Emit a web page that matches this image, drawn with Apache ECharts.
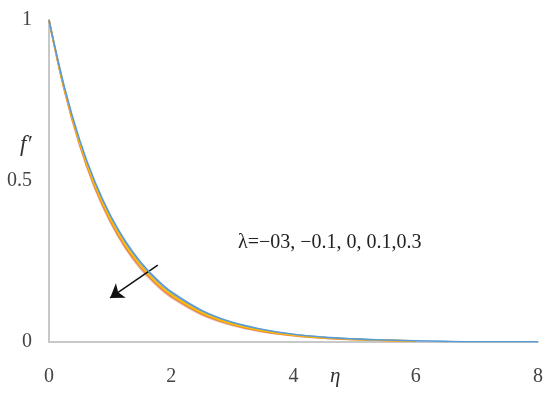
<!DOCTYPE html>
<html>
<head>
<meta charset="utf-8">
<script src="https://cdn.jsdelivr.net/npm/echarts@6/dist/echarts.min.js"></script>
<style>
  html, body { margin: 0; padding: 0; background: #fff; }
  #chart { width: 550px; height: 405px; }
</style>
</head>
<body>
<div id="chart"></div>
<script>
// eta values
var etaValues = [0, 0.25, 0.5, 0.75, 1, 1.25, 1.5, 1.75, 2, 2.5, 3, 3.5, 4, 4.5, 5, 5.5, 6];
var etaTail = [6.5, 7, 7.5, 8];

// f' for each lambda (top curve to bottom curve)
var fLam03 = [1, 0.793, 0.628, 0.498, 0.395, 0.313, 0.248, 0.197, 0.156, 0.098, 0.061, 0.039, 0.024, 0.015, 0.0096, 0.006, 0.004];
var fLam01 = [1, 0.789, 0.623, 0.492, 0.389, 0.307, 0.242, 0.191, 0.151, 0.094, 0.059, 0.037, 0.023, 0.014, 0.009, 0.006, 0.003];
var fLam0 = [1, 0.787, 0.619, 0.487, 0.383, 0.301, 0.237, 0.186, 0.147, 0.091, 0.056, 0.035, 0.021, 0.013, 0.008, 0.005, 0.003];
var fLamM01 = [1, 0.784, 0.614, 0.481, 0.377, 0.295, 0.232, 0.181, 0.142, 0.087, 0.054, 0.033, 0.020, 0.012, 0.008, 0.005, 0.003];
var fLamM03 = [1, 0.781, 0.610, 0.476, 0.372, 0.290, 0.226, 0.177, 0.138, 0.084, 0.051, 0.031, 0.019, 0.012, 0.007, 0.004, 0.003];
var fTail = [0.002, 0.001, 0.001, 0.001];

var xTicks = [0, 2, 4, 6, 8];
var yTicks = [0, 0.5, 1];

// arrow (from, to) in data units
var arrowFrom = [1.78, 0.239];
var arrowTo = [1.0, 0.137];

function pairs(xs, ys) {
    var out = [];
    for (var i = 0; i < xs.length; i++) {
        out.push([xs[i], ys[i]]);
    }
    return out;
}

var serif = '"Liberation Serif", "DejaVu Serif", serif';

var chart = echarts.init(document.getElementById('chart'));

function line(name, data, color, z) {
    return {
        name: name,
        type: 'line',
        smooth: 0.4,
        showSymbol: false,
        z: z,
        lineStyle: { color: color, width: 1.6 },
        data: data
    };
}

var option = {
    animation: false,
    grid: { left: 49, right: 12, top: 20, bottom: 63, outerBoundsMode: 'none', containLabel: false },
    xAxis: {
        type: 'value',
        min: 0,
        max: 8,
        interval: 2,
        axisLine: { lineStyle: { color: '#c8c8c8', width: 2 } },
        axisTick: { show: false },
        splitLine: { show: false },
        axisLabel: {
            margin: 25,
            fontFamily: serif, fontSize: 20, color: '#444',
            formatter: function (v) { return xTicks.indexOf(v) >= 0 ? String(v) : ''; }
        }
    },
    yAxis: {
        type: 'value',
        min: 0,
        max: 1,
        interval: 0.5,
        axisLine: { show: true, lineStyle: { color: '#c8c8c8', width: 2 } },
        axisTick: { show: false },
        splitLine: { show: false },
        axisLabel: {
            margin: 17,
            fontFamily: serif, fontSize: 20, color: '#444',
            formatter: function (v) { return yTicks.indexOf(v) >= 0 ? String(v) : ''; }
        }
    },
    graphic: [
        {
            type: 'text',
            left: 20, top: 133,
            style: { text: 'f′', fontFamily: serif, fontStyle: 'italic', fontSize: 23, fill: '#333' }
        },
        {
            type: 'text',
            left: 330, top: 366,
            style: { text: 'η', fontFamily: serif, fontStyle: 'italic', fontSize: 21, fill: '#333' }
        },
        {
            type: 'text',
            left: 238, top: 233,
            style: { text: 'λ=−03, −0.1, 0, 0.1,0.3', fontFamily: serif, fontSize: 20, fill: '#222' }
        }
    ],
    series: [
        line('λ=0.1', pairs(etaValues, fLam01), '#A5A5A5', 1),
        line('λ=-0.3', pairs(etaValues, fLamM03), '#E6B9B0', 2),
        line('λ=-0.1', pairs(etaValues, fLamM01), '#ED7D31', 3),
        line('λ=0', pairs(etaValues, fLam0), '#FFC000', 4),
        {
            name: 'λ=0.3',
            type: 'line',
            smooth: 0.4,
            showSymbol: false,
            z: 5,
            lineStyle: { color: '#5B9BD5', width: 1.6 },
            data: pairs(etaValues, fLam03).concat(pairs(etaTail, fTail)),
            markLine: {
                silent: true,
                symbol: ['none', 'arrow'],
                symbolSize: 13,
                label: { show: false },
                lineStyle: { color: '#111', width: 1.5, type: 'solid' },
                data: [[{ coord: arrowFrom }, { coord: arrowTo }]]
            }
        }
    ]
};

chart.setOption(option);
</script>
</body>
</html>
